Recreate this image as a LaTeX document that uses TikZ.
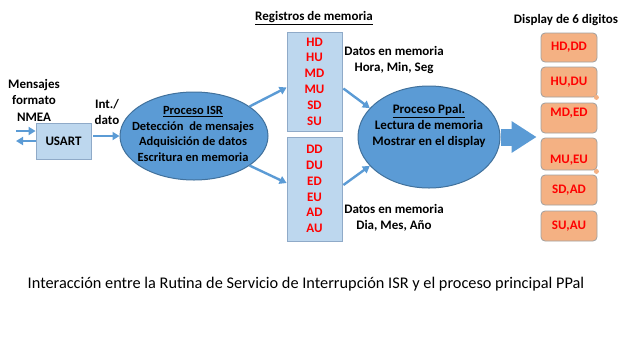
\documentclass[tikz,border=0pt]{standalone}
\usepackage{fontspec}
\setmainfont{Carlito}
\usepackage{xcolor}
\definecolor{isrblue}{RGB}{91,155,213}
\definecolor{isrborder}{RGB}{65,113,156}
\definecolor{reglight}{RGB}{189,215,238}
\definecolor{regborder}{RGB}{143,170,200}
\definecolor{dispfill}{RGB}{244,177,131}
\definecolor{dispborder}{RGB}{160,160,160}
\definecolor{digitred}{RGB}{255,0,0}
\usepackage{tikz}
\usetikzlibrary{arrows.meta, positioning, shapes.geometric}

\tikzset{
  procshape/.style={ellipse, draw=isrborder, fill=isrblue, line width=1pt},
  proctext/.style={align=center, font=\bfseries\fontsize{12.5}{15.5}\selectfont},
  regbox/.style={draw=regborder, fill=reglight, line width=0.8pt, minimum width=55pt,
    text=digitred, align=center, font=\bfseries\fontsize{13}{15.8}\selectfont},
  dispbox/.style={draw=dispborder, fill=dispfill, rounded corners=4pt, line width=0.8pt,
    minimum width=56pt, minimum height=30pt},
  digit/.style={text=digitred, font=\bfseries\fontsize{13}{15}\selectfont},
  plain/.style={align=center, font=\bfseries\fontsize{13}{16.5}\selectfont},
  flow/.style={draw=isrblue, line width=2.4pt, -{Triangle[length=7pt,width=8pt]}},
  bigarrow/.style={draw=isrblue, line width=17pt, -{Triangle[length=25pt,width=30pt]}},
  orangedot/.style={circle, fill=dispfill, inner sep=0pt, minimum size=5pt}
}

\begin{document}
\begin{tikzpicture}[x=1pt, y=-1pt]
\useasboundingbox (0,0) rectangle (640,360);

% entrada serie
\node[plain] (nmea) at (34,100) {Mensajes\\formato\\NMEA};
\node[draw=regborder, fill=reglight, line width=0.8pt, minimum width=55pt, minimum height=36pt,
      font=\bfseries\fontsize{13}{15}\selectfont] (usart) at (63.5,141) {USART};
\coordinate (rxin) at (16,131);
\coordinate (txout) at (16,141);
\draw[flow] (rxin) -- (usart.west |- rxin);
\draw[flow] (usart.west |- txout) -- (txout);
\node[plain] (intdato) at (107,112) {Int./\\dato};

% rutina de interrupcion
\node[procshape, minimum width=148pt, minimum height=88pt] (isr) at (194,136) {};
\node[proctext] (isrtext) at (193,134) {\underline{Proceso ISR}\\Detección~ de mensajes\\Adquisición de datos\\Escritura en memoria};
\draw[flow] ([xshift=2pt]usart.east |- isr.west) -- (isr.west);

% registros
\node[plain] (regtitle) at (314,18) {\underline{Registros de memoria}};
\node[regbox, minimum height=99pt] (hora) at (314.5,81.5) {HD\\HU\\MD\\MU\\SD\\SU};
\node[regbox, minimum height=104pt] (dia) at (314.5,189) {DD\\DU\\ED\\EU\\AD\\AU};
\node[plain] (horatext) at (394,60) {Datos en memoria\\Hora, Min, Seg};
\node[plain] (diatext) at (394,218) {Datos en memoria\\Dia, Mes, Año};
\draw[flow] (isr.28) -- ([yshift=-6pt]hora.west);
\draw[flow] (isr.-28) -- ([yshift=6pt]dia.west);

% proceso principal
\node[procshape, minimum width=142pt, minimum height=102pt] (ppal) at (429,137) {};
\node[proctext, font=\bfseries\fontsize{13}{16}\selectfont] (ppaltext) at (429,126) {\underline{Proceso Ppal.}\\Lectura de memoria\\Mostrar en el display};
\draw[flow] ([xshift=1pt, yshift=-7pt]hora.east) -- (ppal.154);
\draw[flow] ([xshift=1pt, yshift=4pt]dia.east) -- (ppal.206);

% display
\node[plain] (disptitle) at (566,20) {Display de 6 digitos};
\node[dispbox, minimum height=29pt] (d1) at (569,47.5) {};
\node[dispbox] (d2) at (569,82) {};
\node[dispbox] (d3) at (569,118) {};
\node[dispbox, minimum height=32pt] (d4) at (569,154) {};
\node[dispbox] (d5) at (569,190) {};
\node[dispbox] (d6) at (569,226) {};
\node[digit] (t1) at (d1.center) {HD,DD};
\node[digit] (t2) at (d2.center) {HU,DU};
\node[digit, yshift=5pt] (t3) at (d3.center) {MD,ED};
\node[digit, yshift=-6pt] (t4) at (d4.center) {MU,EU};
\node[digit] (t5) at (d5.center) {SD,AD};
\node[digit] (t6) at (d6.center) {SU,AU};
\node[orangedot] (dot1) at ([xshift=-1pt]d2.south east) {};
\node[orangedot] (dot2) at ([xshift=-1pt, yshift=-1pt]d4.south east) {};
\draw[bigarrow] (ppal.east) -- ([xshift=-4pt]d3.west |- ppal.east);

% leyenda
\node[font=\fontsize{16.3}{18}\selectfont] (caption) at (306,284)
  {Interacción entre la Rutina de Servicio de Interrupción ISR y el proceso principal PPal};
\end{tikzpicture}
\end{document}
